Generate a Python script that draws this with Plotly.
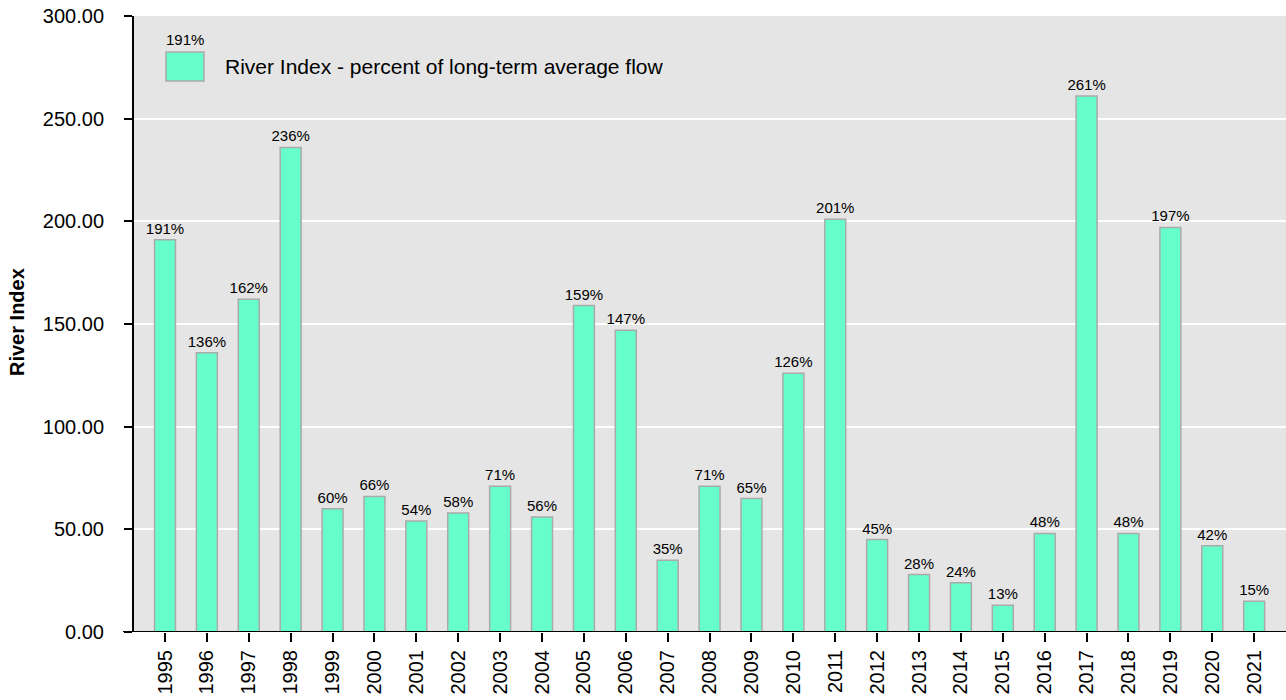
import plotly.graph_objects as go

years = [str(y) for y in range(1995, 2022)]
river_index = [191, 136, 162, 236, 60, 66, 54, 58, 71, 56, 159, 147, 35, 71, 65,
               126, 201, 45, 28, 24, 13, 48, 261, 48, 197, 42, 15]
labels = [f"{v}%" for v in river_index]
series_name = "River Index - percent of long-term average flow"
y_ticks = [0, 50, 100, 150, 200, 250, 300]

BAR_FILL = "#66ffcc"
BAR_EDGE = "#aaaaaa"
FONT = "Liberation Sans, Arial, sans-serif"

fig = go.Figure()
fig.add_trace(go.Bar(
    x=years,
    y=river_index,
    name=series_name,
    text=labels,
    textposition="outside",
    textfont=dict(size=15, color="#000000", family=FONT),
    cliponaxis=False,
    width=0.5,
    marker=dict(color=BAR_FILL, line=dict(color=BAR_EDGE, width=1.5)),
    showlegend=False,
))

# legend box drawn by hand so the swatch can be large
fig.add_shape(type="rect", xref="paper", yref="paper",
              x0=(166 - 134) / 1152, x1=(204 - 134) / 1152,
              y0=1 - (81 - 16) / 616, y1=1 - (52 - 16) / 616,
              fillcolor=BAR_FILL, line=dict(color=BAR_EDGE, width=1.5))
fig.add_annotation(xref="paper", yref="paper",
                   x=(223 - 134) / 1152, y=1 - (67 - 16) / 616,
                   xanchor="left", yanchor="middle", showarrow=False,
                   text=series_name, font=dict(size=21, color="#000000", family=FONT))
fig.add_annotation(xref="paper", yref="paper",
                   x=(185 - 134) / 1152, y=1 - (39 - 16) / 616,
                   xanchor="center", yanchor="middle", showarrow=False,
                   text=labels[0], font=dict(size=15, color="#000000", family=FONT))

# y-axis title
fig.add_annotation(xref="paper", yref="paper",
                   x=(17 - 134) / 1152, y=1 - (322 - 16) / 616,
                   xanchor="center", yanchor="middle", showarrow=False,
                   textangle=-90,
                   text="<b>River Index</b>", font=dict(size=20, color="#000000", family=FONT))

# baseline extending slightly past the y axis
fig.add_shape(type="line", xref="paper", yref="y",
              x0=(123 - 134) / 1152, x1=1, y0=0, y1=0,
              line=dict(color="#000000", width=2))

fig.update_layout(
    width=1286, height=700,
    margin=dict(l=134, r=0, t=16, b=68),
    paper_bgcolor="#ffffff",
    plot_bgcolor="#e5e5e5",
    font=dict(family=FONT, color="#000000"),
    bargap=0.5,
    uniformtext=dict(minsize=15, mode="show"),
    xaxis=dict(
        range=[-0.74, 26.76],
        tickangle=-90,
        tickfont=dict(size=20),
        ticks="outside", ticklen=9, tickwidth=2, tickcolor="#000000",
        ticklabelstandoff=0,
        showgrid=False, showline=False, zeroline=False,
    ),
    yaxis=dict(
        range=[0, 300],
        tickvals=y_ticks,
        tickformat=".2f",
        tickfont=dict(size=20),
        ticks="outside", ticklen=8, tickwidth=2, tickcolor="#000000",
        ticklabelstandoff=16,
        showgrid=True, gridcolor="#ffffff", gridwidth=1.5,
        showline=True, linecolor="#000000", linewidth=2,
        zeroline=False,
    ),
)

fig.write_html("out.html")
